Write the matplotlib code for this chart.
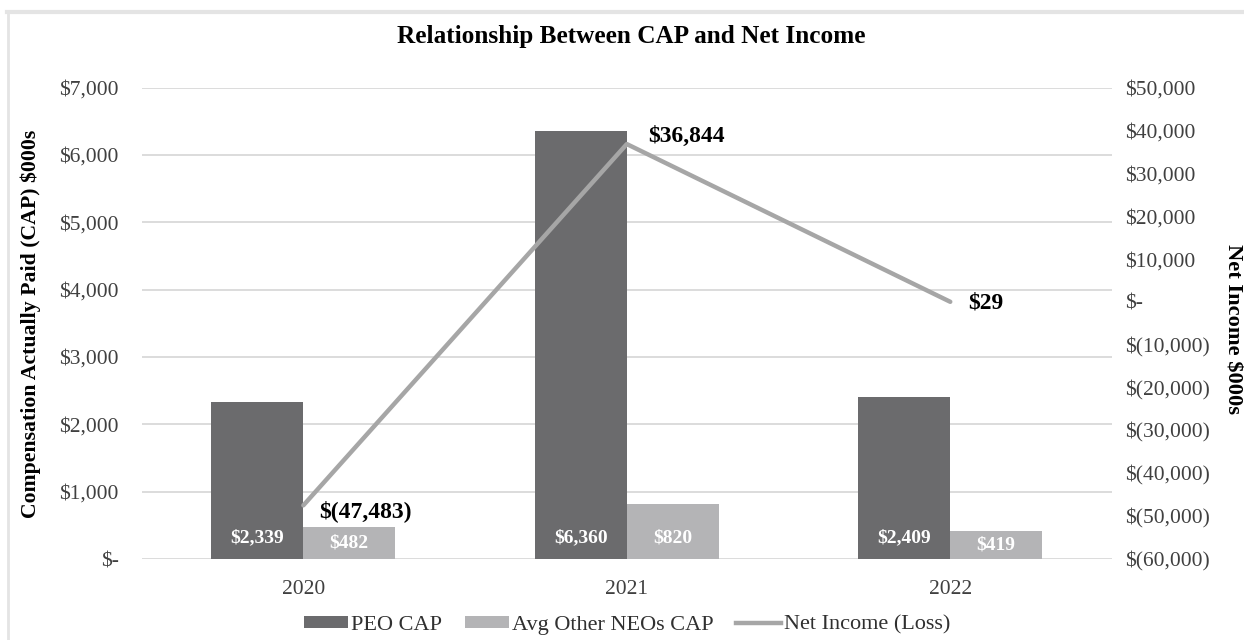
import numpy as np
import matplotlib
matplotlib.use('Agg')
import matplotlib.pyplot as plt
from matplotlib.ticker import FuncFormatter, MultipleLocator
from matplotlib.lines import Line2D
from matplotlib.patches import Patch

years = ['2020', '2021', '2022']
peo_cap = [2339, 6360, 2409]
neo_cap = [482, 820, 419]
net_income = [-47483, 36844, 29]

W, H = 1244, 640
FONT = 'Liberation Serif'
plt.rcParams['font.family'] = [FONT, 'DejaVu Serif']

C_PEO = '#6b6b6d'
C_NEO = '#b4b4b6'
C_LINE = '#a6a6a6'
C_GRID = '#d9d9d9'
C_TICK = '#404040'


def money(v):
    if v == 0:
        return '$-'
    if v < 0:
        return '$({:,})'.format(int(-v))
    return '${:,}'.format(int(v))


fig = plt.figure(figsize=(W / 100, H / 100), dpi=100)
fig.patch.set_facecolor('white')

# outer chart border (top and left visible)
fig.add_artist(Line2D([7 / W, 1], [1 - 12 / H, 1 - 12 / H], transform=fig.transFigure,
                      color='#e4e4e4', lw=3))
fig.add_artist(Line2D([8 / W, 8 / W], [0, 1 - 12 / H], transform=fig.transFigure,
                      color='#e4e4e4', lw=2))

left, right, top, bottom = 141.6, 1112, 87.7, 559
ax = fig.add_axes([left / W, 1 - bottom / H, (right - left) / W, (bottom - top) / H])
ax.set_facecolor('none')

x = np.arange(len(years))
w = 0.284
ax.bar(x - w / 2, peo_cap, w, color=C_PEO, zorder=2)
ax.bar(x + w / 2, neo_cap, w, color=C_NEO, zorder=2)

ax.set_xlim(-0.5, 2.5)
ax.set_ylim(0, 7000)
ax.yaxis.set_major_locator(MultipleLocator(1000))
ax.yaxis.set_major_formatter(FuncFormatter(lambda v, p: money(v)))
ax.grid(axis='y', color=C_GRID, lw=1.3, zorder=0)
ax.set_axisbelow(True)
ax.set_xticks(x)
ax.set_xticklabels(years)
for s in ax.spines.values():
    s.set_visible(False)
ax.tick_params(axis='y', length=0, pad=16.5, labelsize=15.5, labelcolor=C_TICK)
ax.tick_params(axis='x', length=0, pad=15, labelsize=15.5, labelcolor=C_TICK)

for xi, v in zip(x, peo_cap):
    ax.text(xi - w / 2, min(v / 2, 312), money(v), ha='center', va='center',
            color='white', fontsize=14, fontweight='bold', zorder=3)
for xi, v in zip(x, neo_cap):
    ax.text(xi + w / 2, min(v / 2, 312), money(v), ha='center', va='center',
            color='white', fontsize=14, fontweight='bold', zorder=3)

ax2 = ax.twinx()
ax2.set_ylim(-60000, 50000)
ax2.yaxis.set_major_locator(MultipleLocator(10000))
ax2.yaxis.set_major_formatter(FuncFormatter(lambda v, p: money(v)))
for s in ax2.spines.values():
    s.set_visible(False)
ax2.tick_params(axis='y', length=0, pad=9.4, labelsize=15.5, labelcolor=C_TICK)
ax2.plot(x, net_income, color=C_LINE, lw=3.2, solid_capstyle='round', zorder=4)

offsets = [(16, -6), (21, 8), (18, -1)]
for xi, v, off in zip(x, net_income, offsets):
    ax2.annotate(money(v), (xi, v), xytext=off, textcoords='offset pixels',
                 ha='left', va='center', fontsize=17, fontweight='bold',
                 color='black', zorder=5)

fig.text(631 / W, 1 - 37 / H, 'Relationship Between CAP and Net Income',
         ha='center', va='center', fontsize=18.2, fontweight='bold')
fig.text(30.6 / W, 1 - 323.5 / H, 'Compensation Actually Paid (CAP) $000s',
         ha='center', va='center', rotation=90, fontsize=15.7, fontweight='bold')
fig.text(1233 / W, 1 - 328.5 / H, 'Net Income $000s',
         ha='center', va='center', rotation=270, fontsize=16.2, fontweight='bold')

handles = [Patch(facecolor=C_PEO, edgecolor='none'),
           Patch(facecolor=C_NEO, edgecolor='none'),
           Line2D([0], [0], color=C_LINE, lw=3.2)]
labels = ['PEO CAP', 'Avg Other NEOs CAP', 'Net Income (Loss)']
fig.legend(handles, labels, loc='center', bbox_to_anchor=(627 / W, 1 - 625 / H),
           ncol=3, frameon=False, handlelength=2.0,
           handleheight=0.45, handletextpad=0.15, columnspacing=1.0,
           labelcolor='#303030', borderpad=0, borderaxespad=0,
           prop={'family': FONT, 'size': 16})

fig.savefig('out.png', dpi=100, facecolor='white')
